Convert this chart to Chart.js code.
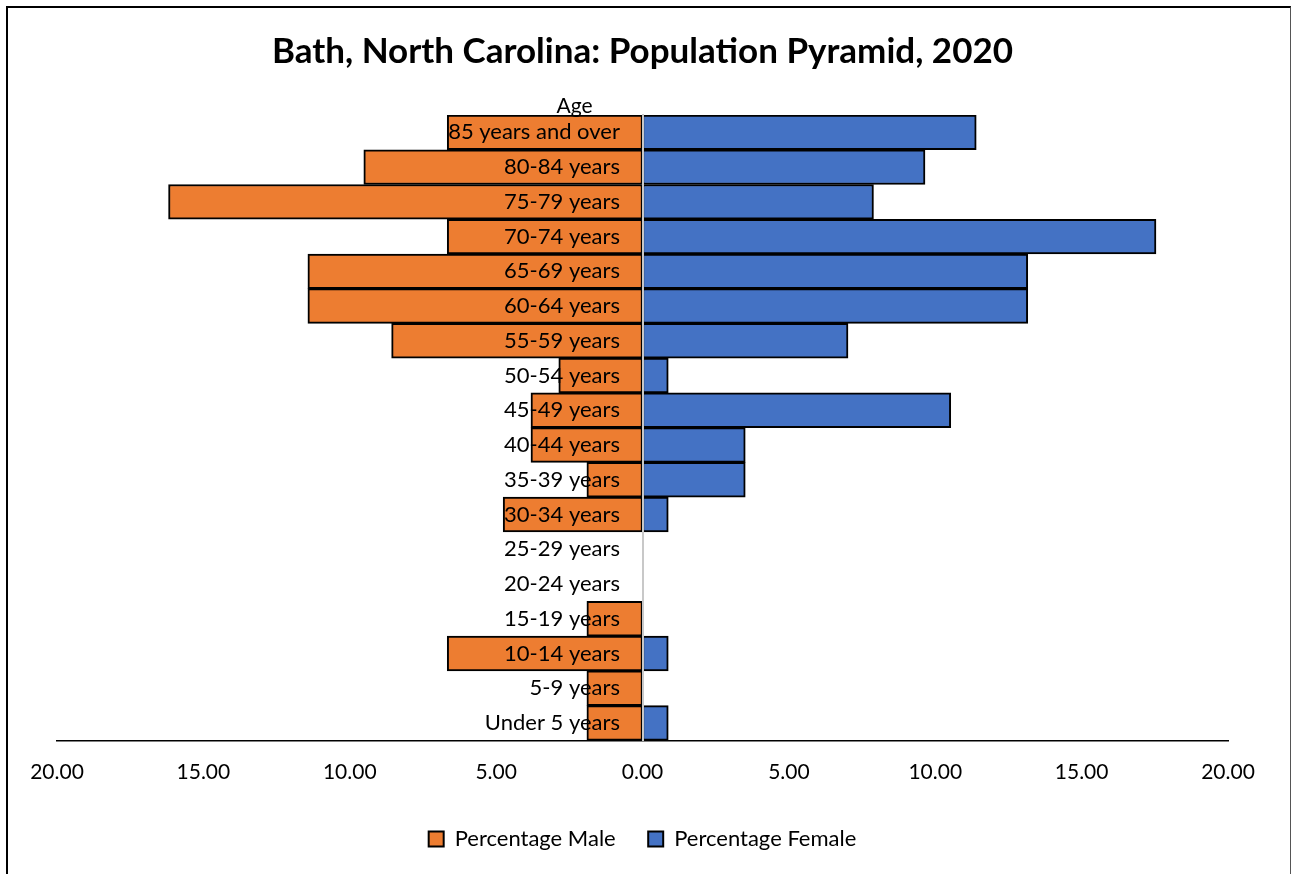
<!DOCTYPE html>
<html>
<head>
<meta charset="utf-8">
<script src="https://cdn.jsdelivr.net/npm/chart.js@4/dist/chart.umd.min.js"></script>
<style>
  body { margin: 0; background: #fff; overflow: hidden; }
  #wrap { position: relative; width: 1292px; height: 874px; }
  #frame { position: absolute; left: 6px; top: 6px; width: 1282px; height: 900px;
           border-left: 2px solid #000; border-top: 2px solid #000; border-right: 1px solid #555; }
  canvas { position: absolute; left: 0; top: 0; }
</style>
</head>
<body>
<div id="wrap">
  <div id="frame"></div>
  <canvas id="myChart" width="1292" height="874"></canvas>
</div>
<script>
// age groups, top to bottom
const ageLabels = [
	"85 years and over", "80-84 years", "75-79 years", "70-74 years",
	"65-69 years", "60-64 years", "55-59 years", "50-54 years",
	"45-49 years", "40-44 years", "35-39 years", "30-34 years",
	"25-29 years", "20-24 years", "15-19 years", "10-14 years",
	"5-9 years", "Under 5 years"
];

// percent of population
const malePct = [6.67, 9.52, 16.19, 6.67, 11.43, 11.43, 8.57, 2.86, 3.81, 3.81, 1.90, 4.76, 0, 0, 1.90, 6.67, 1.90, 1.90];
const femalePct = [11.40, 9.65, 7.89, 17.54, 13.16, 13.16, 7.02, 0.88, 10.53, 3.51, 3.51, 0.88, 0, 0, 0, 0.88, 0, 0.88];

const xTicks = [-20, -15, -10, -5, 0, 5, 10, 15, 20];

const FONT = "Lato, 'Open Sans', sans-serif";

// "Age" caption above the category labels
const ageTitle = {
	id: "ageTitle",
	afterDraw(chart) {
		let ctx = chart.ctx;
		let x = chart.scales.x.getPixelForValue(0) - 68;
		ctx.save();
		ctx.font = "21px " + FONT;
		ctx.fillStyle = "#000";
		ctx.textAlign = "center";
		ctx.textBaseline = "middle";
		ctx.fillText("Age", x, chart.chartArea.top - 9);
		ctx.restore();
	}
};

const ctx = document.querySelector("#myChart");

const chartData = {
	labels: ageLabels,
	datasets: [
		{
			label: "Percentage Male",
			data: malePct.map(v => -v),
			backgroundColor: "#ED7D31",
			borderColor: "#000",
			borderWidth: 2,
			borderSkipped: false,
			categoryPercentage: 1,
			barPercentage: 1,
			grouped: false
		},
		{
			label: "Percentage Female",
			data: femalePct,
			backgroundColor: "#4472C4",
			borderColor: "#000",
			borderWidth: 2,
			borderSkipped: false,
			categoryPercentage: 1,
			barPercentage: 1,
			grouped: false
		}
	]
};

new Chart(ctx, {
	type: "bar",
	data: chartData,
	plugins: [ageTitle],
	options: {
		indexAxis: "y",
		responsive: false,
		animation: false,
		layout: {
			padding: { left: 57, right: 64, top: 22, bottom: 14 }
		},
		scales: {
			x: {
				min: -20,
				max: 20,
				afterBuildTicks: axis => { axis.ticks = xTicks.map(v => ({ value: v })); },
				grid: { display: false },
				border: { display: true, color: "#000", width: 1.5 },
				ticks: {
					padding: 11,
					color: "#000",
					font: { family: FONT, size: 21 },
					callback: v => Math.abs(v).toFixed(2)
				}
			},
			// category labels, sitting a little left of zero, drawn over the bars
			y: {
				position: { x: -0.77 },
				grid: { display: false },
				border: { display: false },
				ticks: {
					z: 1,
					color: "#000",
					font: { family: FONT, size: 22 }
				}
			},
			// grey zero line
			y2: {
				type: "category",
				position: { x: 0 },
				grid: { display: false },
				border: { display: true, color: "#c8c8c8", width: 2, z: 1 },
				ticks: { display: false }
			}
		},
		plugins: {
			title: {
				display: true,
				text: "Bath, North Carolina: Population Pyramid, 2020",
				color: "#000",
				font: { family: FONT, size: 35, weight: "bold" },
				padding: { top: 9, bottom: 42 }
			},
			legend: {
				position: "bottom",
				labels: {
					color: "#000",
					font: { family: FONT, size: 22 },
					boxWidth: 15,
					boxHeight: 15,
					padding: 32.5
				}
			},
			tooltip: { enabled: false }
		}
	}
});
</script>
</body>
</html>
